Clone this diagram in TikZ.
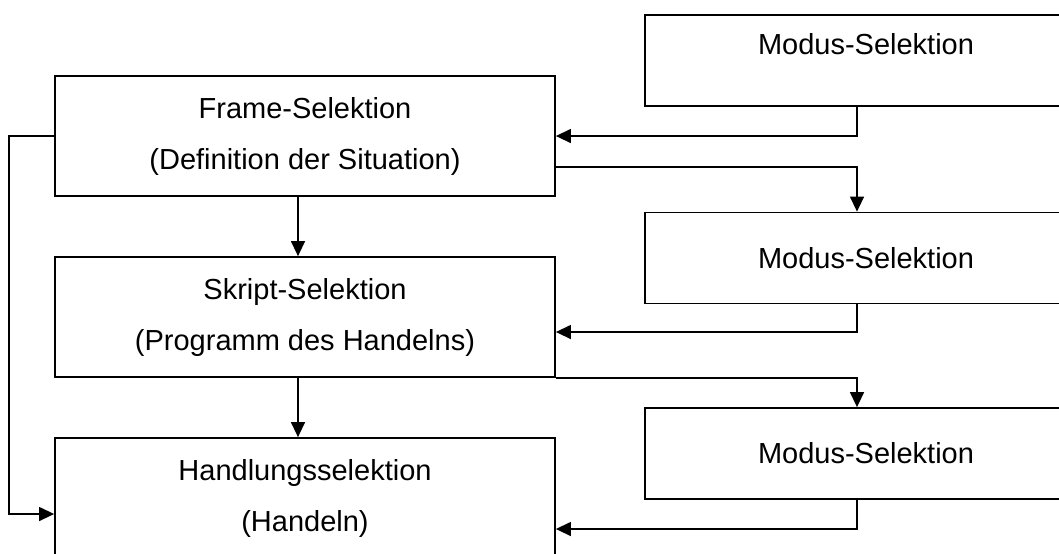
\documentclass[tikz,border=0pt]{standalone}
\usepackage{fontspec}
\setmainfont{Liberation Sans}
\usetikzlibrary{arrows.meta, positioning, calc}
\tikzset{
    selbox/.style={
        rectangle,
        draw=black,
        line width=0.9pt,
        align=center,
        minimum width=250pt,
        minimum height=60pt,
        font=\fontsize{14.5pt}{25.5pt}\selectfont
    },
    modusbox/.style={
        rectangle,
        draw=black,
        line width=0.9pt,
        align=center,
        minimum width=221pt,
        minimum height=45.5pt,
        font=\fontsize{14.5pt}{25.5pt}\selectfont
    },
    flowarrow/.style={-{Triangle[length=7.5pt, width=7pt]}, line width=0.7pt, draw=black}
}
\begin{document}
\begin{tikzpicture}[x=0.5pt, y=-0.5pt]
            \useasboundingbox (0,0) rectangle (1059,553);
            \node[selbox] (frame) at (305,136) {Frame-Selektion\\(Definition der Situation)};
            \node[selbox] (skript) at (305,317) {Skript-Selektion\\(Programm des Handelns)};
            \node[selbox] (handlung) at (305,498) {Handlungsselektion\\(Handeln)};
            \node[modusbox, text height=10.4pt, text depth=16.5pt] (modusA) at (866,60.5) {Modus-Selektion};
            \node[modusbox] (modusB) at (866,258) {Modus-Selektion};
            \node[modusbox] (modusC) at (866,453.5) {Modus-Selektion};
            \coordinate (col) at (857,0);
            \draw[flowarrow] (modusA.south -| col) |- (frame.east);
            \draw[flowarrow] ($(frame.east)+(0,31)$) -| (modusB.north -| col);
            \draw[flowarrow] (modusB.south -| col) |- ($(skript.east)+(0,15)$);
            \draw[flowarrow] (skript.south east) -| (modusC.north -| col);
            \draw[flowarrow] (modusC.south -| col) |- ($(handlung.east)+(0,31)$);
            \draw[flowarrow] (frame.west) -- ++(-45,0) |- ($(handlung.west)+(0,16)$);
            \draw[flowarrow] ($(frame.south)+(-7,0)$) -- ($(skript.north)+(-7,0)$);
            \draw[flowarrow] ($(skript.south)+(-7,0)$) -- ($(handlung.north)+(-7,0)$);
        \end{tikzpicture}
\end{document}
